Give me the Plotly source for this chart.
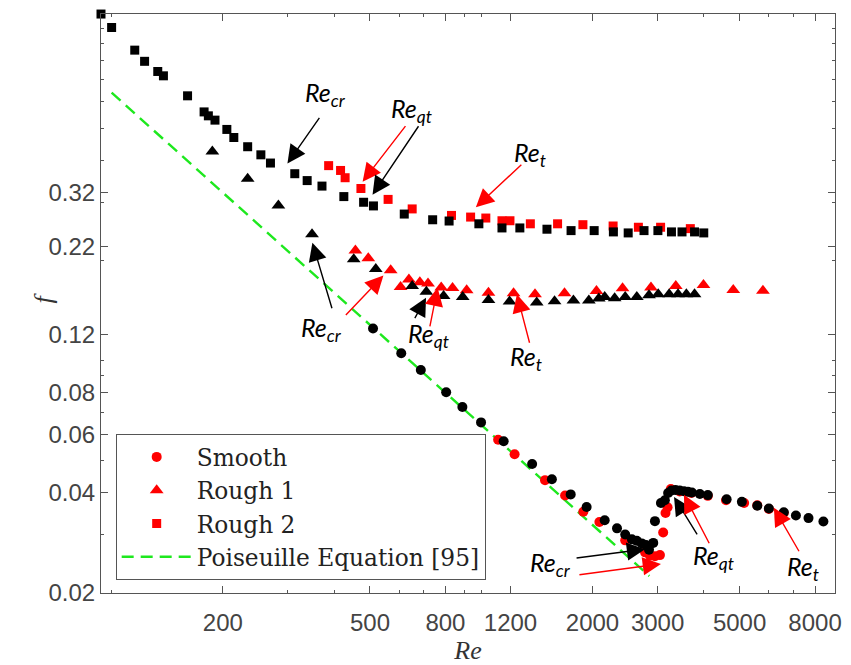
import math
import plotly.graph_objects as go

# ---- Friction factor data: Reynolds number (Re) and friction factor (f) ----
# Smooth pipe
smooth_red_re = [1111, 1231, 1488, 1686, 1889, 2088, 2452, 2775, 2862, 2951, 3044, 3106,
                 3152, 3192, 3258, 3443, 3702, 4102, 4595, 5144, 5583, 6001, 6585]
smooth_red_f = [0.0578, 0.0523, 0.0437, 0.0393, 0.0351, 0.0327, 0.0288, 0.0265, 0.0259, 0.0258,
                0.026, 0.0304, 0.0348, 0.0362, 0.0411, 0.0404, 0.04, 0.0392, 0.038, 0.0373,
                0.0367, 0.0358, 0.0348]
smooth_black_re = [509.6, 607.6, 686.4, 803.8, 889.3, 998.8, 1150, 1373, 1553, 1746, 1928, 2158,
                   2330, 2452, 2556, 2636, 2719, 2792, 2844, 2920, 2951, 3063, 3139, 3204, 3271,
                   3353, 3443, 3536, 3625, 3715, 3904, 4102, 4612, 5072, 5583, 6001, 6585, 7102,
                   7681, 8428]
smooth_black_f = [0.1249, 0.1053, 0.0937, 0.0803, 0.0725, 0.0652, 0.0572, 0.0489, 0.044, 0.0396,
                  0.0363, 0.0331, 0.0313, 0.03, 0.029, 0.0287, 0.0282, 0.0279, 0.027, 0.0283,
                  0.0329, 0.0373, 0.038, 0.04, 0.0407, 0.0408, 0.0407, 0.0405, 0.0403, 0.0401,
                  0.0397, 0.0394, 0.0383, 0.0376, 0.0366, 0.0359, 0.035, 0.0342, 0.0336, 0.0328]

# Rough 1
rough1_red_re = [456.6, 494.8, 568.9, 605.0, 637.3, 682.2, 717.8, 779.4, 836.2, 913.2, 1046,
                 1223, 1398, 1680, 2050, 2412, 2879, 3360, 3993, 4807, 5783]
rough1_red_f = [0.2143, 0.2033, 0.1869, 0.1664, 0.1754, 0.1722, 0.1707, 0.1661, 0.1653, 0.1627,
                0.16, 0.1594, 0.1584, 0.1594, 0.162, 0.165, 0.1661, 0.1676, 0.169, 0.1631, 0.1623]
rough1_black_re = [187.3, 233.4, 282.6, 348.5, 451.9, 518.4, 650.4, 710.4, 791, 891, 1046, 1193,
                   1413, 1579, 1776, 1955, 2080, 2158, 2296, 2452, 2636, 2844, 3012, 3224, 3408,
                   3589, 3777]
rough1_black_f = [0.426, 0.3527, 0.2927, 0.2401, 0.2019, 0.1886, 0.1676, 0.1612, 0.1565, 0.1555,
                  0.1523, 0.1505, 0.1495, 0.151, 0.1516, 0.1516, 0.1537, 0.1555, 0.1541, 0.1555,
                  0.1555, 0.1573, 0.1584, 0.1584, 0.1584, 0.1584, 0.1584]

# Rough 2
rough2_red_re = [386.5, 416.3, 428.3, 472.6, 559.8, 650.4, 831, 936, 1029, 1138, 1196, 1358,
                 1609, 1884, 2274, 2662, 3057, 3679]
rough2_red_f = [0.386, 0.3733, 0.355, 0.3295, 0.3055, 0.286, 0.2734, 0.2703, 0.2685, 0.2635,
                0.2635, 0.258, 0.258, 0.2564, 0.2541, 0.2519, 0.2519, 0.2495]
rough2_black_re = [93.6, 100, 115.5, 122.8, 133.3, 138.1, 160.5, 177.9, 182.7, 190.4, 205.0,
                   214.1, 233.4, 253.4, 269.0, 313.0, 338.1, 370.8, 424.9, 480.6, 511.0, 619.1,
                   738.9, 818.6, 985.4, 1138, 1272, 1506, 1750, 2021, 2278, 2498, 2757, 3006,
                   3271, 3493, 3777, 4000]
rough2_black_f = [1.103, 1.005, 0.859, 0.795, 0.741, 0.719, 0.626, 0.560, 0.545, 0.529, 0.496,
                  0.469, 0.440, 0.416, 0.393, 0.365, 0.348, 0.335, 0.3115, 0.2995, 0.292, 0.276,
                  0.2653, 0.263, 0.258, 0.2507, 0.2507, 0.2485, 0.2461, 0.2461, 0.2439, 0.2422,
                  0.2461, 0.2461, 0.2439, 0.2439, 0.2439, 0.2422]

# Poiseuille laminar law f = 64/Re, end points of the reference line
poiseuille_re = [100, 2850]
poiseuille_f = [0.64, 0.0225]

# Axis ticks
x_major = [200, 500, 800, 1200, 2000, 3000, 5000, 8000]
x_minor = [100, 300, 400, 600, 700, 900, 1000, 4000, 6000, 7000]
y_major = [0.02, 0.04, 0.06, 0.08, 0.12, 0.22, 0.32]
y_minor = [0.03, 0.05, 0.07, 0.09, 0.1, 0.2, 0.3, 0.4, 0.5, 0.6, 0.7, 0.8, 0.9, 1.0]

RED = "#ff0000"
BLACK = "#000000"
GREEN = "#1ee81e"

fig = go.Figure()

fig.add_trace(go.Scatter(
    x=poiseuille_re, y=poiseuille_f, mode="lines", name="Poiseuille Equation [95]",
    line=dict(color=GREEN, width=2.4, dash="12px,7px"), legendrank=4))

marker_sets = [
    ("Smooth", "circle", 10, smooth_red_re, smooth_red_f, smooth_black_re, smooth_black_f, 1),
    ("Rough 1", "triangle-up", 12, rough1_red_re, rough1_red_f, rough1_black_re, rough1_black_f, 2),
    ("Rough 2", "square", 9, rough2_red_re, rough2_red_f, rough2_black_re, rough2_black_f, 3),
]
for name, sym, size, rre, rf, bre, bf, rank in marker_sets:
    fig.add_trace(go.Scatter(
        x=rre, y=rf, mode="markers", name=name, legendrank=rank, cliponaxis=False,
        marker=dict(symbol=sym, size=size, color=RED, line=dict(width=0))))
for name, sym, size, rre, rf, bre, bf, rank in marker_sets:
    fig.add_trace(go.Scatter(
        x=bre, y=bf, mode="markers", name=name, showlegend=False, cliponaxis=False,
        marker=dict(symbol=sym, size=size, color=BLACK, line=dict(width=0))))

# Transition markers: arrow tip at (Re, f), tail offset in pixels
arrows = [
    (299, 0.392, 33, -47, BLACK),
    (477.6, 0.3455, 44, -57, RED),
    (508, 0.3155, 47, -70, BLACK),
    (967, 0.2892, 47, -44, RED),
    (349.3, 0.2263, 20, 67, BLACK),
    (543.7, 0.1803, -39, 41, RED),
    (709, 0.1547, -12, 22, BLACK),
    (762, 0.1656, -8, 40, RED),
    (1249, 0.1584, 13, 50, RED),
    (2775, 0.0271, -70, 9, BLACK),
    (3063, 0.02447, -83, 11, RED),
    (3324, 0.0389, 24, 39, BLACK),
    (3536, 0.0395, 26, 50, RED),
    (6190, 0.0361, 26, 45, RED),
]
labels = [
    (380, 0.632, "cr"), (646, 0.569, "qt"), (1356, 0.418, "t"),
    (368.6, 0.1241, "cr"), (718, 0.1191, "qt"), (1323, 0.1018, "t"),
    (1543, 0.02443, "cr"), (4247, 0.02562, "qt"), (7405, 0.02377, "t"),
]

annotations = []
for re_, f_, ax, ay, col in arrows:
    annotations.append(dict(
        x=math.log10(re_), y=math.log10(f_), xref="x", yref="y", text="",
        showarrow=True, ax=ax, ay=ay, arrowcolor=col, arrowwidth=1.4,
        arrowhead=2, arrowsize=2.6, standoff=0, startstandoff=0))
for re_, f_, sub in labels:
    annotations.append(dict(
        x=math.log10(re_), y=math.log10(f_), xref="x", yref="y", showarrow=False,
        text=f"<i>Re<sub>{sub}</sub></i>",
        font=dict(family="Lato", size=25, color="#000000")))
annotations.append(dict(
    x=-0.078, y=0.51, xref="paper", yref="paper", xanchor="center", yanchor="middle",
    showarrow=False, textangle=-90,
    text="<i>f</i>", font=dict(family="Liberation Serif", size=26, color="#333333")))

axis_common = dict(
    type="log", showline=True, linecolor="#555555", linewidth=1, mirror="ticks",
    ticks="inside", ticklen=7, tickcolor="#555555", showgrid=False, zeroline=False,
    tickfont=dict(family="Liberation Sans", size=24, color="#444444"),
)

fig.update_layout(
    width=851, height=665,
    margin=dict(l=101, r=9, t=14, b=64),
    paper_bgcolor="white", plot_bgcolor="white",
    xaxis=dict(
        **axis_common,
        range=[math.log10(93.6), math.log10(9060)],
        tickvals=x_major, ticktext=[str(v) for v in x_major],
        ticklabelstandoff=8,
        minor=dict(tickvals=x_minor, ticks="inside", ticklen=3, tickcolor="#555555"),
        title=dict(text="<i>Re</i>", font=dict(family="Liberation Serif", size=26,
                                                 color="#333333"), standoff=2),
    ),
    yaxis=dict(
        **axis_common,
        range=[math.log10(0.02), 0.0427],
        tickvals=y_major, ticktext=[str(v) for v in y_major],
        minor=dict(tickvals=y_minor, ticks="inside", ticklen=3, tickcolor="#555555"),
    ),
    legend=dict(
        x=0.02, y=0.022, xanchor="left", yanchor="bottom",
        bgcolor="white", bordercolor="#555555", borderwidth=1,
        font=dict(family="DejaVu Serif", size=23.3, color="#222222"),
        itemwidth=70, traceorder="normal",
    ),
    annotations=annotations,
)

fig.write_html("out.html")
